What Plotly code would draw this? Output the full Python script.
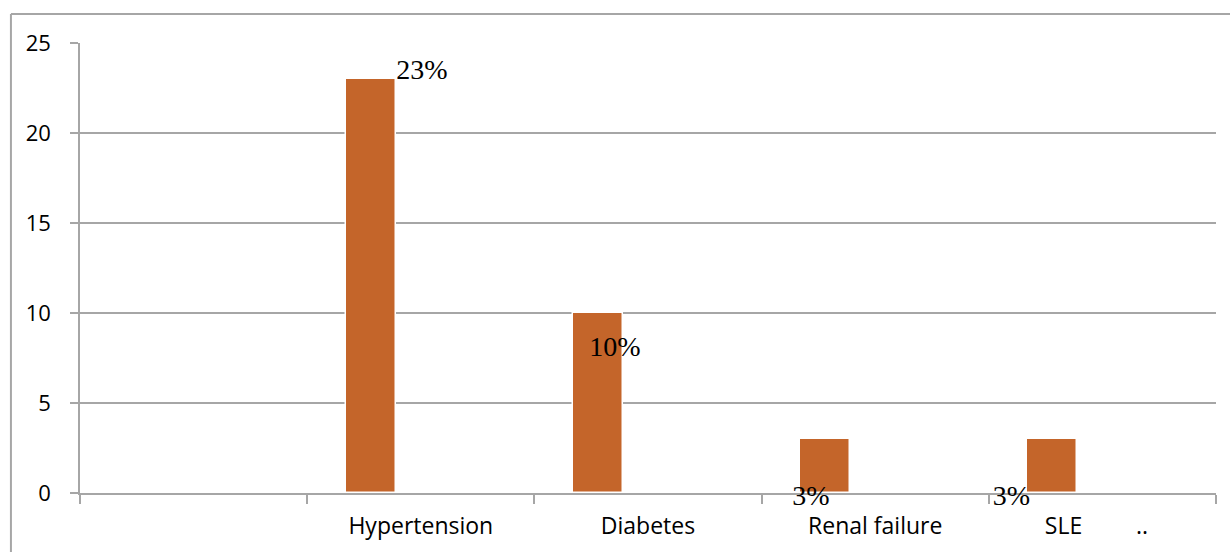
import plotly.graph_objects as go

# Comorbidity counts (percent of patients)
categories = ["", "Hypertension", "Diabetes", "Renal failure", "SLE"]
tick_labels = ["", "Hypertension", "Diabetes", "Renal failure",
               "SLE" + "\u00a0" * 9 + ".." + "\u00a0" * 2]
values = [None, 23, 10, 3, 3]

# Value-label placement: (x shift from category centre, y position in value units)
label_spots = {
    "Hypertension": (0.005, 23.4),
    "Diabetes": (-0.146, 8.0),
    "Renal failure": (-0.283, -0.25),
    "SLE": (-0.401, -0.25),
}

BAR = "#C4652A"
GRID = "#A6A6A6"

fig = go.Figure()
fig.add_trace(go.Bar(
    x=categories,
    y=values,
    width=0.22,
    offset=-0.33,
    marker=dict(color=BAR, line=dict(color="white", width=1.5)),
    hoverinfo="skip",
))

# Percentage labels as a text trace on hidden axes with the same value scale,
# whose range reaches slightly below zero so the lowest labels stay visible
lx, ly, lt = [], [], []
for i, (cat, val) in enumerate(zip(categories, values)):
    if val is None:
        continue
    dx, yv = label_spots[cat]
    lx.append(i + dx)
    ly.append(yv)
    lt.append(f"{val}%")
fig.add_trace(go.Scatter(
    x=lx, y=ly, text=lt, mode="text",
    textposition="middle center",
    textfont=dict(family="Liberation Serif", size=28, color="black"),
    xaxis="x2", yaxis="y2",
    cliponaxis=False, hoverinfo="skip",
))

# Plot paper spans 469 px (margins t=43, b=40); the value axis leaves 19 px at the bottom
PAPER_H = 552 - 43 - 40
Y_BOTTOM = 19 / PAPER_H
PX_PER_UNIT = (PAPER_H - 19) / 25

# Outer frame of the chart area (left and top edges fall inside the page)
fig.add_shape(type="line", xref="paper", yref="paper",
              x0=-0.0608, x1=-0.0608, y0=-0.3, y1=(PAPER_H + 29) / PAPER_H,
              line=dict(color=GRID, width=2))
fig.add_shape(type="line", xref="paper", yref="paper",
              x0=-0.0608, x1=1.2, y0=(PAPER_H + 29) / PAPER_H, y1=(PAPER_H + 29) / PAPER_H,
              line=dict(color=GRID, width=2))

fig.update_layout(
    width=1230, height=552,
    margin=dict(l=80, r=14, t=43, b=40),
    paper_bgcolor="white", plot_bgcolor="rgba(0,0,0,0)",
    showlegend=False,
    font=dict(family="Open Sans", color="black"),
    bargap=0,
    xaxis=dict(
        type="category",
        tickmode="array", tickvals=categories, ticktext=tick_labels,
        range=[-0.5, 4.5],
        tickson="boundaries", ticks="outside", ticklen=9, tickcolor=GRID, tickwidth=1.5,
        showgrid=False, showline=True, linecolor=GRID, linewidth=1.5,
        tickfont=dict(family="Open Sans", size=23, color="black"),
        ticklabelstandoff=12,
        automargin=False,
    ),
    yaxis=dict(
        domain=[Y_BOTTOM, 1],
        range=[0, 25], dtick=5,
        ticks="outside", ticklen=8, tickcolor=GRID, tickwidth=1.5,
        showgrid=True, gridcolor=GRID, gridwidth=1.5,
        showline=True, linecolor=GRID, linewidth=1.5,
        zeroline=False,
        tickfont=dict(family="Open Sans", size=22, color="black"),
        ticklabelstandoff=15,
        automargin=False,
    ),
    xaxis2=dict(domain=[0, 1], range=[-0.5, 4.5], anchor="y2",
                visible=False, automargin=False),
    yaxis2=dict(domain=[0, 1], range=[-19 / PX_PER_UNIT, 25], anchor="x2",
                visible=False, automargin=False),
)

fig.write_html("out.html")
